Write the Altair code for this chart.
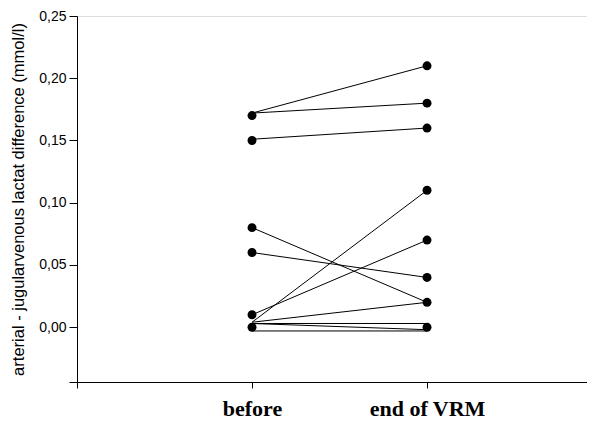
import altair as alt
import pandas as pd

# Paired measurements (lines): before -> end of VRM
line_before = [0.172, 0.172, 0.151, 0.080, 0.060, 0.010, 0.004, 0.004, 0.003, 0.003, -0.003]
line_after = [0.210, 0.180, 0.160, 0.020, 0.040, 0.070, 0.110, 0.020, 0.003, -0.002, -0.003]

# Plotted dots
dots_before = [0.170, 0.150, 0.080, 0.060, 0.010, 0.000]
dots_after = [0.210, 0.180, 0.160, 0.110, 0.070, 0.040, 0.020, 0.000]

categories = ["before", "end of VRM"]
y_ticks = [-0.044, 0.00, 0.05, 0.10, 0.15, 0.20, 0.25]

rows = []
for i, (b, a) in enumerate(zip(line_before, line_after)):
    rows.append({"id": i, "t": 1, "v": b})
    rows.append({"id": i, "t": 2, "v": a})
lines_df = pd.DataFrame(rows)

dots_df = pd.DataFrame(
    [{"t": 1, "v": v} for v in dots_before] + [{"t": 2, "v": v} for v in dots_after]
)

x_enc = alt.X(
    "t:Q",
    scale=alt.Scale(domain=[0, 2.914], nice=False, zero=False),
    axis=alt.Axis(
        values=[0, 1, 2],
        labelExpr=f"datum.value==1?'{categories[0]}':datum.value==2?'{categories[1]}':''",
        title=None,
        grid=False,
        domainColor="black",
        tickColor="black",
        tickSize=6,
        labelFont="Liberation Serif",
        labelFontWeight="bold",
        labelFontSize=22,
        labelColor="black",
        labelPadding=10,
    ),
)
y_enc = alt.Y(
    "v:Q",
    scale=alt.Scale(domain=[-0.044, 0.25], nice=False, zero=False),
    axis=alt.Axis(
        values=y_ticks,
        labelExpr="datum.value < -0.01 ? '' : replace(format(datum.value, '.2f'), '.', ',')",
        title="arterial - jugularvenous lactat difference (mmol/l)",
        grid=False,
        domainColor="black",
        tickColor="black",
        tickSize=8,
        labelFont="Liberation Sans",
        labelFontSize=14,
        labelColor="black",
        labelPadding=3,
        titleFont="Liberation Sans",
        titleFontSize=16.5,
        titleFontWeight="normal",
        titleColor="black",
        titlePadding=12,
    ),
)

lines = alt.Chart(lines_df).mark_line(color="black", strokeWidth=1).encode(
    x=x_enc, y=y_enc, detail="id:N"
)
dots = alt.Chart(dots_df).mark_circle(color="black", size=80, opacity=1).encode(
    x="t:Q", y="v:Q"
)

chart = (
    alt.layer(lines, dots)
    .properties(
        width=510,
        height=366,
        autosize=alt.AutoSizeParams(type="none"),
        padding={"left": 69, "top": 8, "right": 0, "bottom": 42},
    )
    .configure_view(stroke=None)
    .configure(background="white")
)

chart.save("out.html", embed_options={"renderer": "svg", "actions": False})
